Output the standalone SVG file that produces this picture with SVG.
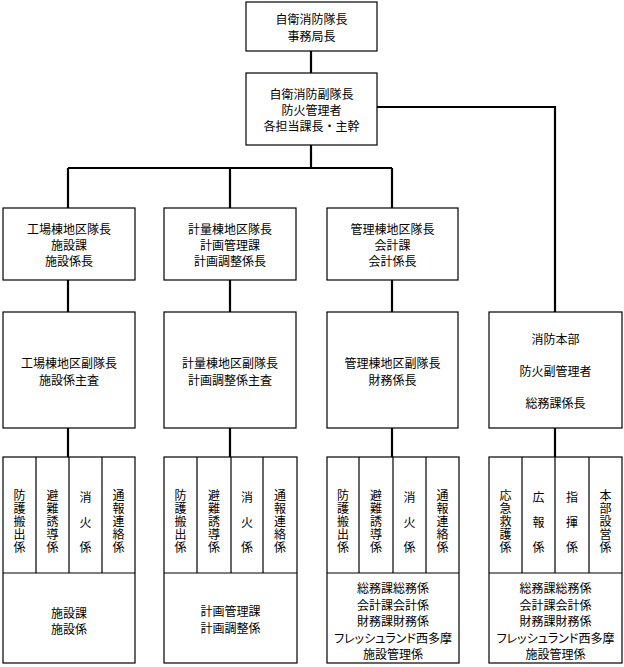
<svg xmlns="http://www.w3.org/2000/svg" width="624" height="667" viewBox="0 0 624 667">
<style>
.b{fill:#fff;stroke:#000;stroke-width:1.2}
.d{stroke:#000;stroke-width:1.2;fill:none}
.c{stroke:#000;stroke-width:2.2;fill:none}
text{font-family:"Noto Sans CJK JP","Noto Sans",sans-serif;font-size:12px;fill:#000;text-anchor:middle;dominant-baseline:central}
text.v{writing-mode:vertical-rl;text-anchor:start;letter-spacing:1px}
text.w{writing-mode:vertical-rl;text-anchor:start;letter-spacing:13px}
tspan.p{font-feature-settings:"palt"}
</style>
<rect width="624" height="667" fill="#fff"/>
<g id="connectors">
<path class="c" d="M311,51V73M311,145V168M68,168H392M68,168V208M230,168V208M392,168V208M68,280V312M230,280V312M392,280V312M68,428V457M230,428V457M392,428V457M377,107H555V312M555,428V457"/>
</g>
<g id="n-chief"><rect class="b" x="246" y="2" width="131" height="49"/><text x="311.5" y="18.5">自衛消防隊長<tspan x="311.5" dy="16">事務局長</tspan></text></g>
<g id="n-deputy"><rect class="b" x="246" y="73" width="131" height="72"/><text x="311.5" y="93">自衛消防副隊長<tspan x="311.5" dy="16">防火管理者</tspan><tspan x="311.5" dy="16">各担当課長・主幹</tspan></text></g>
<g id="n-a1"><rect class="b" x="3" y="208" width="132" height="72"/><text x="69" y="228">工場棟地区隊長<tspan x="69" dy="16">施設課</tspan><tspan x="69" dy="15.5">施設係長</tspan></text></g>
<g id="n-b1"><rect class="b" x="164" y="208" width="132" height="72"/><text x="230" y="228">計量棟地区隊長<tspan x="230" dy="16">計画管理課</tspan><tspan x="230" dy="15.5">計画調整係長</tspan></text></g>
<g id="n-c1"><rect class="b" x="327" y="208" width="131" height="72"/><text x="392.5" y="228">管理棟地区隊長<tspan x="392.5" dy="16">会計課</tspan><tspan x="392.5" dy="15.5">会計係長</tspan></text></g>
<g id="n-a2"><rect class="b" x="3" y="312" width="132" height="116"/><text x="69" y="362.5">工場棟地区副隊長<tspan x="69" dy="16">施設係主査</tspan></text></g>
<g id="n-b2"><rect class="b" x="164" y="312" width="132" height="116"/><text x="230" y="362.5">計量棟地区副隊長<tspan x="230" dy="16">計画調整係主査</tspan></text></g>
<g id="n-c2"><rect class="b" x="327" y="312" width="131" height="116"/><text x="392.5" y="362.5">管理棟地区副隊長<tspan x="392.5" dy="16">財務係長</tspan></text></g>
<g id="n-d2"><rect class="b" x="489" y="312" width="133" height="116"/><text x="555.5" y="338">消防本部</text><text x="555.5" y="370">防火副管理者</text><text x="555.5" y="402">総務課係長</text></g>
<g id="n-a3"><rect class="b" x="3" y="457" width="132" height="206"/><path class="d" d="M3,573H135M36,457V573M69,457V573M102,457V573"/>
<text class="v" x="19.5" y="489">防護搬出係</text>
<text class="v" x="52.5" y="489">避難誘導係</text>
<text class="w" x="85.5" y="491">消火係</text>
<text class="v" x="118.5" y="489">通報連絡係</text>
<text x="69" y="612">施設課<tspan x="69" dy="16">施設係</tspan></text></g>
<g id="n-b3"><rect class="b" x="164" y="457" width="133" height="206"/><path class="d" d="M164,573H297M197,457V573M231,457V573M263,457V573"/>
<text class="v" x="180.5" y="489">防護搬出係</text>
<text class="v" x="214" y="489">避難誘導係</text>
<text class="w" x="247" y="491">消火係</text>
<text class="v" x="280" y="489">通報連絡係</text>
<text x="230.5" y="610.5">計画管理課<tspan x="230.5" dy="16">計画調整係</tspan></text></g>
<g id="n-c3"><rect class="b" x="327" y="457" width="132" height="206"/><path class="d" d="M327,573H459M359,457V573M393,457V573M426,457V573"/>
<text class="v" x="343" y="489">防護搬出係</text>
<text class="v" x="376" y="489">避難誘導係</text>
<text class="w" x="409.5" y="491">消火係</text>
<text class="v" x="442.5" y="489">通報連絡係</text>
<text x="393" y="587">総務課総務係<tspan x="393" dy="16.5">会計課会計係</tspan><tspan x="393" dy="16.5">財務課財務係</tspan><tspan class="p" x="393" dy="16.5">フレッシュランド西多摩</tspan><tspan x="393" dy="16">施設管理係</tspan></text></g>
<g id="n-d3"><rect class="b" x="489" y="457" width="133" height="206"/><path class="d" d="M489,573H622M522,457V573M555,457V573M589,457V573"/>
<text class="v" x="505.5" y="489">応急救護係</text>
<text class="w" x="538.5" y="491">広報係</text>
<text class="w" x="572" y="491">指揮係</text>
<text class="v" x="605.5" y="489">本部設営係</text>
<text x="555.5" y="587">総務課総務係<tspan x="555.5" dy="16.5">会計課会計係</tspan><tspan x="555.5" dy="16.5">財務課財務係</tspan><tspan class="p" x="555.5" dy="16.5">フレッシュランド西多摩</tspan><tspan x="555.5" dy="16">施設管理係</tspan></text></g>
</svg>
